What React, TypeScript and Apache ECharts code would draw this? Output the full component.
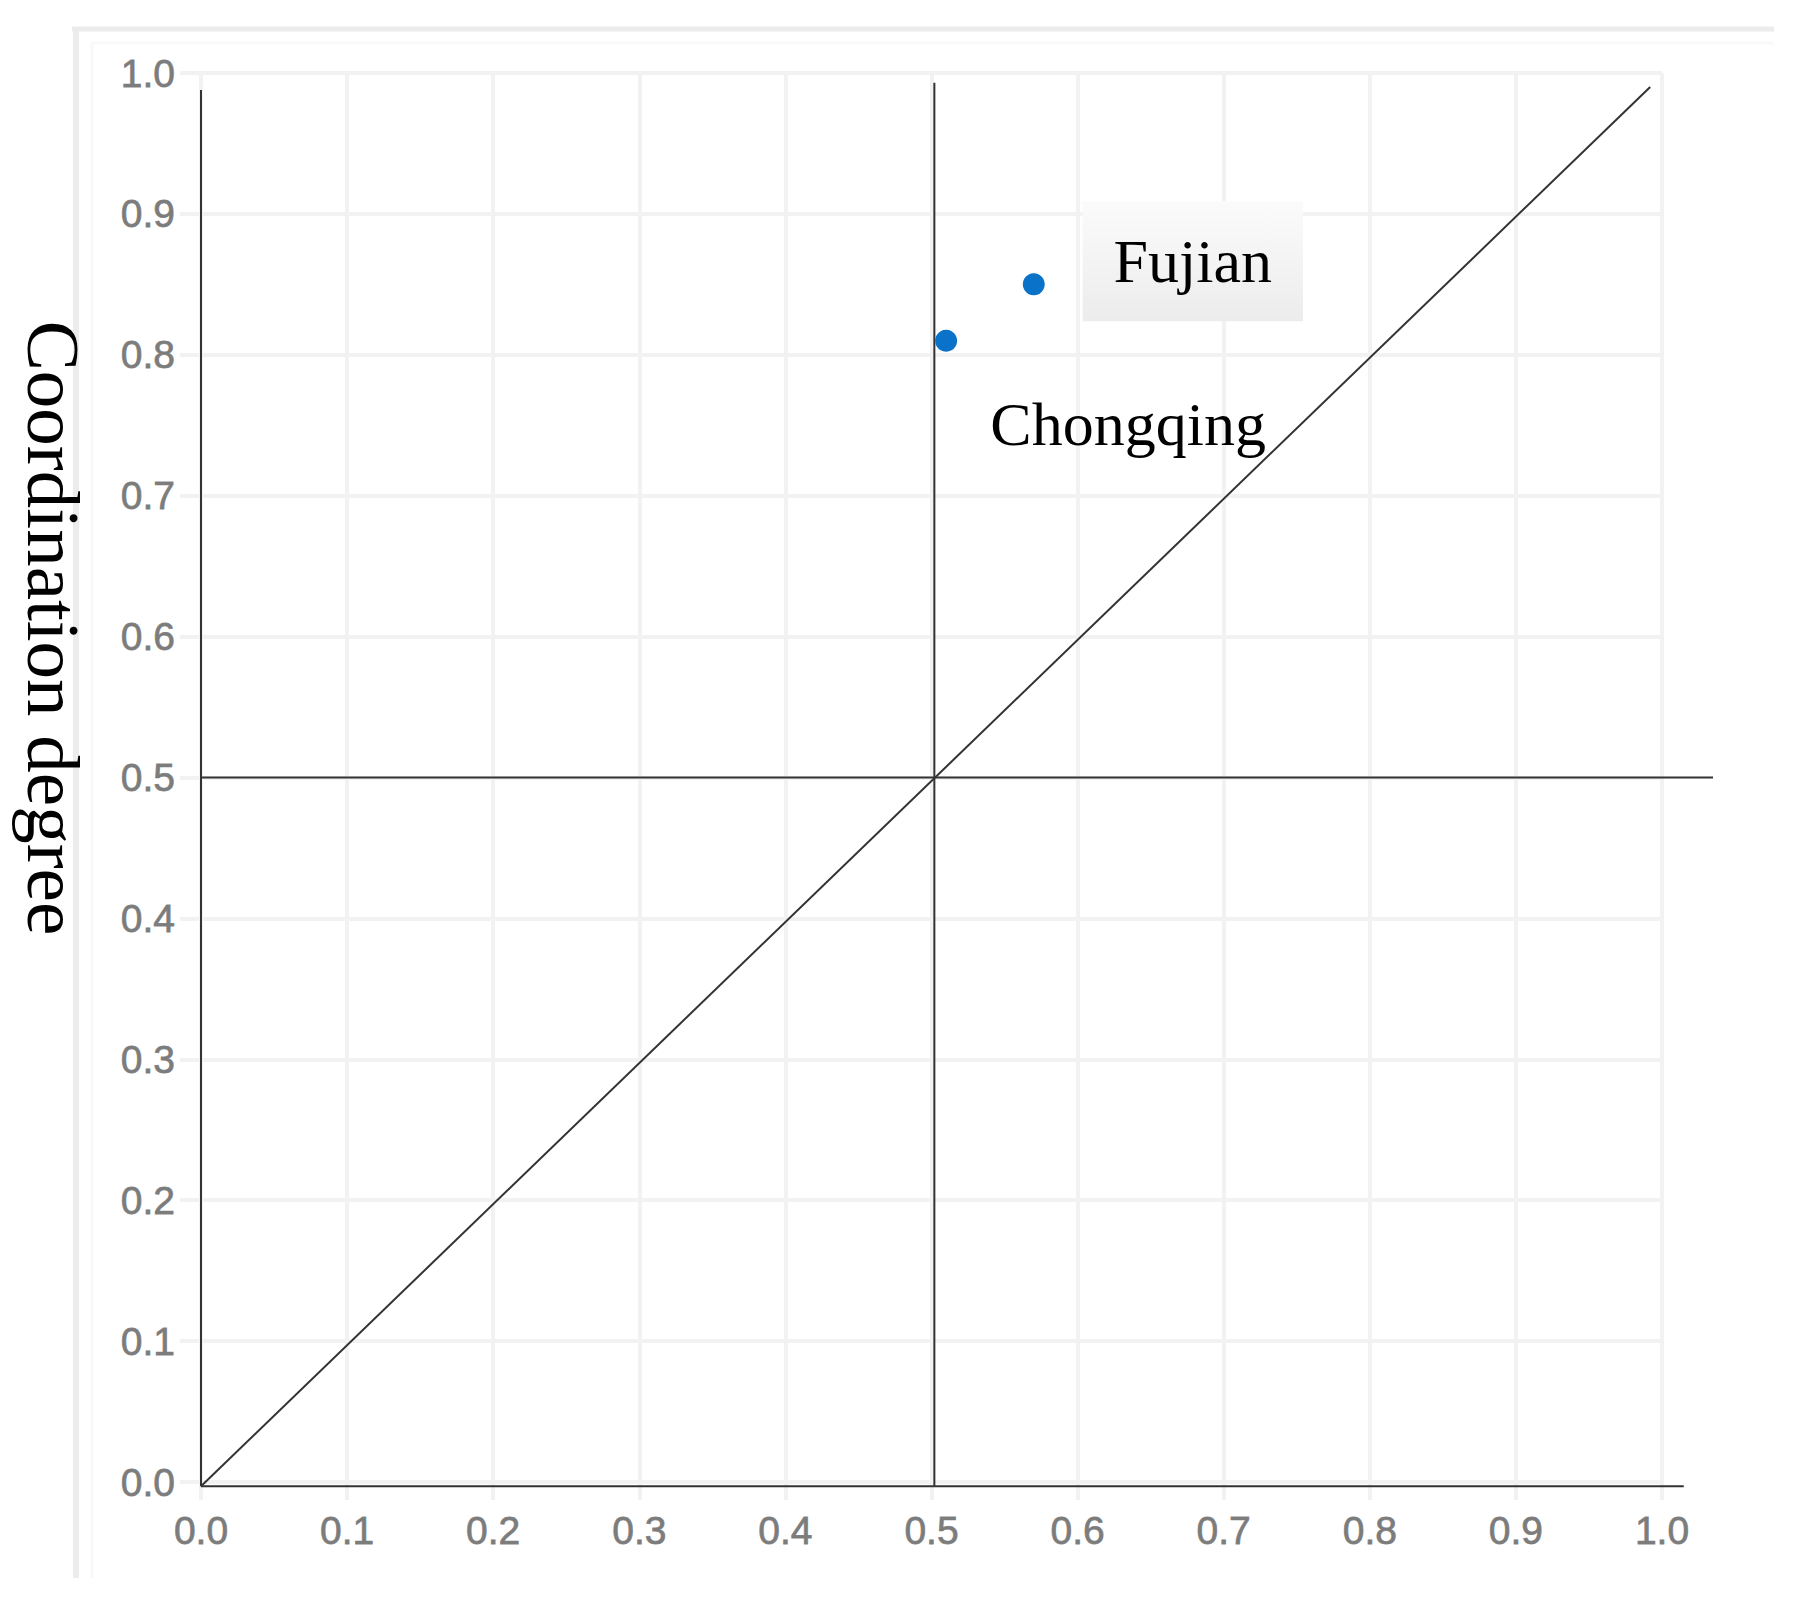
import React, { useEffect, useRef } from "react";
import * as echarts from "echarts";

const provinces = ["Fujian", "Chongqing"];
const xValues = [0.57, 0.51];
const yValues = [0.85, 0.81];
const yTitle = "Coordination degree";

// reference lines (data coordinates)
const yAxisLine = [[0, -0.003], [0, 0.988]];
const xAxisLine = [[0, -0.003], [1.015, -0.003]];
const vLine = [[0.502, -0.003], [0.502, 0.993]];
const hLine = [[0, 0.5], [1.035, 0.5]];
const diagLine = [[0, -0.003], [0.992, 0.99]];

const GRID_COLOR = "#f2f2f2";
const LABEL_COLOR = "#7c7c7c";

export default function App() {
  const ref = useRef<HTMLDivElement>(null);
  useEffect(() => {
    document.body.style.margin = "0";
    const chart = echarts.init(ref.current!, null, { renderer: "svg" });
    const lineSeries = (data: number[][], axisIdx: number) => ({
      type: "line",
      data,
      symbol: "none",
      clip: false,
      silent: true,
      xAxisIndex: axisIdx,
      yAxisIndex: axisIdx,
      z: 3,
      lineStyle: { color: "#333", width: 2 },
    });
    const tickLabelFont = {
      color: LABEL_COLOR,
      fontSize: 39,
      fontFamily: "Liberation Sans, Arial, sans-serif",
      textBorderColor: "#8a8a8a",
      textBorderWidth: 0.8,
    };
    const hiddenAxis = (gridIndex: number, max: number) => ({
      type: "value",
      gridIndex,
      min: 0,
      max,
      show: false,
      splitLine: { show: false },
    });
    chart.setOption({
      animation: false,
      backgroundColor: "#fff",
      grid: [
        { left: 201, right: 144, top: 73, bottom: 121, outerBoundsMode: "none" },
        // same scale as grid 0, but extended to x = 1.035 for the long reference lines
        { left: 201, right: 93, top: 73, bottom: 121, outerBoundsMode: "none" },
      ],
      xAxis: [
        {
          type: "value",
          min: 0,
          max: 1,
          interval: 0.1,
          position: "bottom",
          axisLine: { show: false },
          axisTick: { show: true, length: 18, lineStyle: { color: GRID_COLOR, width: 4 } },
          axisLabel: { ...tickLabelFont, margin: 29, formatter: (v: number) => v.toFixed(1) },
          splitLine: { show: true, lineStyle: { color: GRID_COLOR, width: 4 } },
        },
        {
          type: "value",
          min: 0,
          max: 1,
          interval: 0.1,
          position: "top",
          axisLine: { show: false },
          axisTick: { show: true, length: 26, lineStyle: { color: GRID_COLOR, width: 4 } },
          axisLabel: { show: false },
          splitLine: { show: false },
        },
        hiddenAxis(1, 1.035),
      ],
      yAxis: [
        {
          type: "value",
          min: 0,
          max: 1,
          interval: 0.1,
          position: "left",
          axisLine: { show: false },
          axisTick: { show: true, length: 21, lineStyle: { color: GRID_COLOR, width: 4 } },
          axisLabel: { ...tickLabelFont, margin: 26, formatter: (v: number) => v.toFixed(1) },
          splitLine: { show: true, lineStyle: { color: GRID_COLOR, width: 4 } },
        },
        {
          type: "value",
          min: 0,
          max: 1,
          interval: 0.1,
          position: "right",
          axisLine: { show: false },
          axisTick: { show: true, length: 31, lineStyle: { color: GRID_COLOR, width: 4 } },
          axisLabel: { show: false },
          splitLine: { show: false },
        },
        hiddenAxis(1, 1),
      ],
      graphic: [
        { type: "line", shape: { x1: 72, y1: 29, x2: 1774, y2: 29 }, style: { stroke: "#ececec", lineWidth: 5 }, z: -1 },
        { type: "line", shape: { x1: 76, y1: 27, x2: 76, y2: 1578 }, style: { stroke: "#ececec", lineWidth: 6 }, z: -1 },
        { type: "line", shape: { x1: 92, y1: 43, x2: 1774, y2: 43 }, style: { stroke: "#f9f9f9", lineWidth: 3 }, z: -1 },
        { type: "line", shape: { x1: 92, y1: 43, x2: 92, y2: 1578 }, style: { stroke: "#f9f9f9", lineWidth: 3 }, z: -1 },
        {
          type: "text",
          x: 53,
          y: 628,
          rotation: -Math.PI / 2,
          style: {
            text: yTitle,
            fill: "#000",
            font: "75px 'Liberation Serif', 'Times New Roman', serif",
            align: "center",
            verticalAlign: "middle",
          },
        },
      ],
      series: [
        lineSeries(yAxisLine, 2),
        lineSeries(xAxisLine, 2),
        lineSeries(vLine, 2),
        lineSeries(hLine, 2),
        lineSeries(diagLine, 2),
        {
          type: "scatter",
          z: 5,
          symbolSize: 22,
          itemStyle: { color: "#0a72c8", opacity: 1 },
          data: provinces.map((p, i) => ({
            name: p,
            value: [xValues[i], yValues[i]],
            label:
              p === "Fujian"
                ? {
                    show: true,
                    formatter: "{b}",
                    position: "inside",
                    offset: [159, -23],
                    color: "#000",
                    fontSize: 62,
                    fontFamily: "Liberation Serif, Times New Roman, serif",
                    padding: [25, 31, 33, 31],
                    backgroundColor: new echarts.graphic.LinearGradient(0, 0, 0, 1, [
                      { offset: 0, color: "#fbfbfb" },
                      { offset: 1, color: "#ececec" },
                    ]),
                  }
                : {
                    show: true,
                    formatter: "{b}",
                    position: "inside",
                    offset: [182, 83],
                    color: "#000",
                    fontSize: 62,
                    fontFamily: "Liberation Serif, Times New Roman, serif",
                  },
          })),
        },
      ],
    });
    return () => chart.dispose();
  }, []);
  return <div ref={ref} style={{ width: 1806, height: 1603 }} />;
}
